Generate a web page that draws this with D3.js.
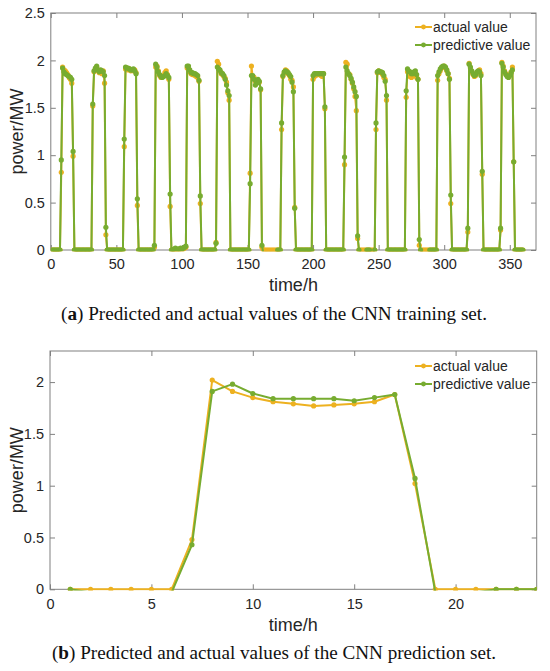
<!DOCTYPE html>
<html>
<head>
<meta charset="utf-8">
<script src="https://cdn.jsdelivr.net/npm/d3@7"></script>
<style>
  body { margin: 0; background: #fff; }
  text { font-family: "Liberation Sans", Arial, sans-serif; }
</style>
</head>
<body>
<svg id="chart" width="550" height="671"></svg>
<script>
// ---- data ----
// training set: 15 days x 24 hours, power in MW
const trainActualDays = [
  [0,0,0,0,0,0,0,0.82,1.93,1.90,1.89,1.87,1.85,1.82,1.80,1.76,0.99,0,0,0,0,0,0,0],
  [0,0,0,0,0,0,0,1.52,1.88,1.91,1.93,1.89,1.87,1.88,1.86,1.89,1.76,0.16,0,0,0,0,0,0],
  [0,0,0,0,0,0,0,1.09,1.91,1.92,1.90,1.91,1.89,1.90,1.89,1.90,1.87,0.47,0,0,0,0,0,0],
  [0,0,0,0,0,0,0.03,1.93,1.94,1.89,1.84,1.82,1.83,1.84,1.87,1.89,1.85,1.80,0.46,0,0,0,0.01,0],
  [0,0.01,0.01,0,0.01,0.02,0.03,1.92,1.93,1.88,1.86,1.85,1.85,1.84,1.83,1.82,1.78,0.49,0,0,0,0,0,0],
  [0,0,0,0,0,0.08,1.99,1.96,1.89,1.86,1.85,1.83,1.81,1.77,1.66,1.58,0,0,0,0,0,0,0,0],
  [0,0,0,0,0,0,0,0.81,1.94,1.82,1.82,1.78,1.77,1.79,1.77,1.69,0.03,0,0,0,0,0,0,0],
  [0,0,0,0,0,0,0,1.27,1.83,1.87,1.90,1.89,1.86,1.84,1.80,1.79,1.72,0.45,0,0,0,0,0,0],
  [0,0,0,0,0,0,0,1.80,1.83,1.84,1.85,1.85,1.86,1.84,1.83,1.86,1.49,0,0,0,0,0,0,0],
  [0,0,0,0,0,0,0,0.90,1.98,1.96,1.86,1.85,1.80,1.76,1.70,1.62,1.47,0.12,0,0,0,0,0,0],
  [0,0,0,0,0,0,0,1.27,1.87,1.89,1.88,1.87,1.85,1.82,1.80,1.58,0,0,0,0,0,0,0,0],
  [0,0,0,0,0,0,1.61,1.88,1.84,1.83,1.82,1.84,1.84,1.86,1.82,1.80,0.05,0,0,0,0,0,0,0],
  [0,0,0,0,0,0,1.79,1.86,1.89,1.92,1.93,1.94,1.92,1.89,1.86,1.81,0.49,0,0,0,0,0,0,0],
  [0,0,0,0,0,0.19,1.97,1.92,1.88,1.85,1.83,1.84,1.87,1.89,1.90,1.86,0.80,0,0,0,0,0,0,0],
  [0,0,0,0,0,0,0.21,1.98,1.94,1.89,1.86,1.84,1.83,1.85,1.88,1.93,0.93,0,0,0,0,0,0,0]
];
const trainPredDays = [
  [0,0,0,0,0,0,0,0.95,1.92,1.88,1.86,1.85,1.84,1.83,1.82,1.80,1.04,0,0,0,0,0,0,0],
  [0,0,0,0,0,0,0,1.54,1.89,1.92,1.94,1.90,1.88,1.90,1.89,1.88,1.84,0.24,0,0,0,0,0,0],
  [0,0,0,0,0,0,0,1.17,1.93,1.92,1.92,1.91,1.90,1.90,1.91,1.89,1.86,0.54,0,0,0,0,0,0],
  [0,0,0,0,0,0,0.05,1.96,1.93,1.88,1.85,1.83,1.82,1.83,1.84,1.86,1.84,1.82,0.59,0,0,0.01,0.02,0.01],
  [0.01,0.01,0.02,0.01,0.02,0.03,0.04,1.94,1.94,1.90,1.87,1.87,1.86,1.86,1.85,1.84,1.79,0.57,0,0,0,0,0,0],
  [0,0,0,0,0,0.07,1.93,1.91,1.90,1.87,1.86,1.84,1.80,1.74,1.68,1.63,0,0,0,0,0,0,0,0],
  [0,0,0,0,0,0,0,0.70,1.84,1.84,1.80,1.74,1.76,1.80,1.78,1.70,0.05,-0.03,-0.03,-0.03,-0.03,-0.03,-0.03,-0.03],
  [-0.03,-0.03,-0.03,-0.03,0,0,0,1.34,1.84,1.88,1.89,1.88,1.87,1.85,1.83,1.77,1.67,0.44,0,0,0,0,0,0],
  [0,0,0,0,0,0,0,1.84,1.86,1.86,1.86,1.86,1.86,1.86,1.86,1.86,1.51,0,0,0,0,0,0,0],
  [0,0,0,0,0,0,0,0.98,1.93,1.89,1.86,1.84,1.81,1.77,1.72,1.67,1.62,0.15,0,-0.03,-0.03,-0.03,-0.03,-0.03],
  [0,0,0,-0.03,-0.03,-0.03,0,1.34,1.88,1.89,1.88,1.88,1.87,1.84,1.78,1.63,0,0,0,0,0,0,0,0],
  [0,0,0,0,0,0,1.68,1.91,1.89,1.88,1.86,1.86,1.88,1.89,1.85,1.80,0.11,0,-0.03,-0.03,-0.03,-0.03,-0.03,-0.03],
  [0,0,0,0,0,0,1.84,1.88,1.91,1.93,1.94,1.94,1.93,1.90,1.86,1.80,0.58,0,0,0,0,0,0,0],
  [0,0,0,0,0,0.23,1.96,1.93,1.89,1.86,1.84,1.85,1.88,1.89,1.88,1.84,0.83,0,0,0,0,0,0,0],
  [0,0,0,0,0,0,0.23,1.97,1.93,1.88,1.85,1.83,1.82,1.84,1.87,1.90,0.93,0,0,0,0,0,0,0]
];

// prediction set: one day, hours 1..24
const testHours  = [1,2,3,4,5,6,7,8,9,10,11,12,13,14,15,16,17,18,19,20,21,22,23,24];
const testActual = [0,0,0,0,0,0,0.48,2.02,1.91,1.85,1.81,1.79,1.77,1.78,1.79,1.81,1.88,1.02,0,0,0,0,0,0];
const testPred   = [0,-0.03,-0.03,-0.03,-0.03,-0.03,0.43,1.91,1.98,1.89,1.84,1.84,1.84,1.84,1.82,1.85,1.88,1.07,-0.03,-0.03,-0.03,0,0,0];

const trainXTicks = [0,50,100,150,200,250,300,350];
const trainYTicks = [0,0.5,1,1.5,2,2.5];
const testXTicks  = [0,5,10,15,20];
const testYTicks  = [0,0.5,1,1.5,2];

const seriesNames = ["actual value", "predictive value"];
const colorActual = "#EDB120";
const colorPred   = "#77AC30";

const trainActual = trainActualDays.flat();
const trainPred   = trainPredDays.flat();
const trainHours  = trainActual.map((v, i) => i + 1);

const svg = d3.select("#chart");

function drawPanel(cfg) {
  const x = d3.scaleLinear().domain(cfg.xDomain).range([cfg.left, cfg.right]);
  const y = d3.scaleLinear().domain(cfg.yDomain).range([cfg.bottom, cfg.top]);
  const g = svg.append("g");

  svg.append("clipPath").attr("id", cfg.key)
    .append("rect")
    .attr("x", cfg.left).attr("y", cfg.top - 2)
    .attr("width", cfg.right - cfg.left).attr("height", cfg.bottom - cfg.top + 3.2);

  // axes, MATLAB style: inward ticks on all four sides
  const fmt = d3.format("");
  const ax = g.append("g").attr("class", "axes");
  ax.append("g").attr("transform", `translate(0,${cfg.bottom})`)
    .call(d3.axisBottom(x).tickValues(cfg.xTicks).tickSize(-5).tickPadding(9).tickFormat(fmt));
  ax.append("g").attr("transform", `translate(0,${cfg.top})`)
    .call(d3.axisTop(x).tickValues(cfg.xTicks).tickSize(-5).tickFormat(""));
  ax.append("g").attr("transform", `translate(${cfg.left},0)`)
    .call(d3.axisLeft(y).tickValues(cfg.yTicks).tickSize(-5).tickPadding(6).tickFormat(fmt));
  ax.append("g").attr("transform", `translate(${cfg.right},0)`)
    .call(d3.axisRight(y).tickValues(cfg.yTicks).tickSize(-5).tickFormat(""));
  ax.selectAll(".domain").remove();
  ax.selectAll(".tick line").attr("stroke", "#808080");
  ax.selectAll(".tick text").attr("fill", "#262626")
    .style("font-size", "14.5px").style("font-family", "'Liberation Sans', Arial, sans-serif");

  g.append("rect")
    .attr("x", cfg.left).attr("y", cfg.top)
    .attr("width", cfg.right - cfg.left).attr("height", cfg.bottom - cfg.top)
    .attr("fill", "none").attr("stroke", "#808080").attr("stroke-width", 1);

  // series
  const line = d3.line().x(d => x(d.h)).y(d => y(d.v));
  const series = [
    { vals: cfg.actual, color: colorActual },
    { vals: cfg.pred,   color: colorPred }
  ];
  series.forEach(s => {
    const pts = s.vals.map((v, i) => ({ h: cfg.hours[i], v: v }));
    const sg = g.append("g").attr("clip-path", `url(#${cfg.key})`);
    sg.append("path").datum(pts)
      .attr("d", line).attr("fill", "none")
      .attr("stroke", s.color).attr("stroke-width", 2).attr("stroke-linejoin", "round");
    sg.selectAll("circle").data(pts.filter(d => d.v >= cfg.yDomain[0]))
      .join("circle")
      .attr("cx", d => x(d.h)).attr("cy", d => y(d.v))
      .attr("r", 2.6).attr("fill", s.color);
  });

  // legend
  const lg = g.append("g");
  series.forEach((s, i) => {
    const ly = cfg.legendY + i * 18;
    lg.append("line").attr("x1", 415).attr("x2", 432).attr("y1", ly).attr("y2", ly)
      .attr("stroke", s.color).attr("stroke-width", 2);
    lg.append("circle").attr("cx", 423.5).attr("cy", ly).attr("r", 2.4).attr("fill", s.color);
    lg.append("text").attr("x", 433).attr("y", ly).attr("dy", "0.35em")
      .style("font-size", "14px").attr("fill", "#262626").text(seriesNames[i]);
  });

  // axis labels
  g.append("text")
    .attr("transform", `translate(17,${(cfg.top + cfg.bottom) / 2}) rotate(-90)`)
    .attr("text-anchor", "middle").attr("dy", "0.35em")
    .style("font-size", "18px").attr("fill", "#262626").text("power/MW");
  g.append("text")
    .attr("x", (cfg.left + cfg.right) / 2).attr("y", cfg.bottom + 35).attr("dy", "0.35em")
    .attr("text-anchor", "middle")
    .style("font-size", "18px").attr("fill", "#262626").text("time/h");

  // caption
  const cap = g.append("text")
    .attr("x", 274).attr("y", cfg.bottom + 70)
    .attr("text-anchor", "middle")
    .attr("textLength", cfg.captionWidth).attr("lengthAdjust", "spacingAndGlyphs")
    .style("font-family", "'Liberation Serif', 'Times New Roman', serif")
    .style("font-size", "18px").attr("fill", "#111");
  cap.append("tspan").text("(");
  cap.append("tspan").style("font-weight", "bold").text(cfg.letter);
  cap.append("tspan").text(") " + cfg.caption);
}

drawPanel({
  key: "clipA", left: 50.8, right: 536, top: 13, bottom: 250,
  xDomain: [0, 370], yDomain: [0, 2.5], xTicks: trainXTicks, yTicks: trainYTicks,
  hours: trainHours, actual: trainActual, pred: trainPred,
  legendY: 27, letter: "a", captionWidth: 426,
  caption: "Predicted and actual values of the CNN training set."
});

drawPanel({
  key: "clipB", left: 50, right: 536.7, top: 351, bottom: 589.3,
  xDomain: [0, 24], yDomain: [0, 2.3], xTicks: testXTicks, yTicks: testYTicks,
  hours: testHours, actual: testActual, pred: testPred,
  legendY: 366, letter: "b", captionWidth: 444,
  caption: "Predicted and actual values of the CNN prediction set."
});
</script>
</body>
</html>
